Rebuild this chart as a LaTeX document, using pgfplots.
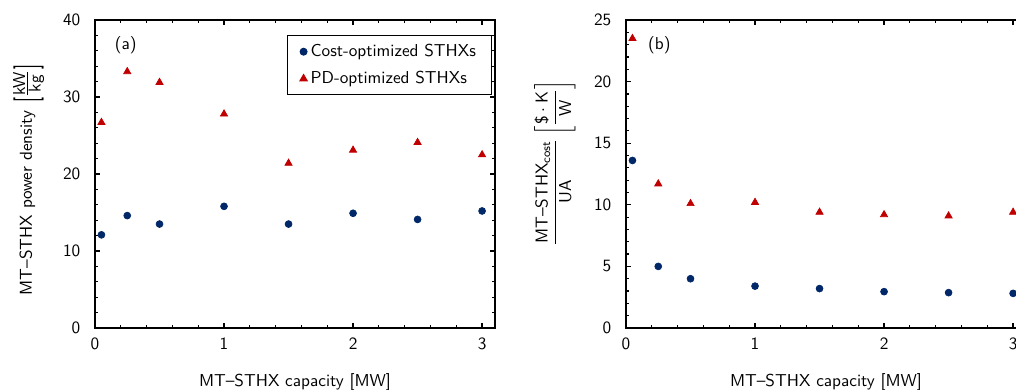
\documentclass[border=0pt]{standalone}
\usepackage{amsmath}
\usepackage{graphicx}
\usepackage{pgfplots}
\pgfplotsset{compat=1.18}
\usetikzlibrary{calc}
\renewcommand{\familydefault}{\sfdefault}
\definecolor{navy}{RGB}{0,40,104}
\definecolor{dred}{RGB}{192,0,0}
\newcommand{\bigbr}[1]{\raisebox{-2.4pt}{\scalebox{1}[1.75]{#1}}}
\pgfplotsset{
 mystyle/.style={
  scale only axis, width=232pt, height=178.64pt,
  xmin=0, xmax=3.1, xtick={0,1,2,3}, minor x tick num=4,
  tick align=inside, major tick length=3pt, minor tick length=1.8pt,
  every tick/.style={black, line width=0.7pt},
  axis line style={line width=0.9pt},
  /pgf/number format/assume math mode=true,
  yticklabel style={xshift=-5pt},
  xticklabel style={yshift=-2pt},
  xlabel={MT--STHX capacity [MW]},
  xlabel style={at={($(axis description cs:0.5,0)+(0,-31.3pt)$)}, anchor=center},
  clip=false,
 },
 cmark/.style={only marks, mark=*, mark size=2.0pt, color=navy},
 tmark/.style={only marks, mark=triangle*, mark size=2.4pt, color=dred},
}
\begin{document}
\begin{tikzpicture}
\begin{axis}[mystyle, name=L, at={(0,0)}, anchor=south west,
  ymin=0, ymax=40, ytick={0,10,20,30,40}, minor y tick num=4,
  ylabel={MT--STHX power density\hspace{5pt}\bigbr{[}$\frac{\textstyle\text{kW}}{\textstyle\text{kg}}$\bigbr{]}},
  ylabel style={at={($(axis description cs:0,0.5)+(-38.5pt,-3.5pt)$)}, anchor=center},
  legend style={at={(rel axis cs:0.9925,0.951)}, anchor=north east, draw=black, line width=0.6pt, inner xsep=7pt, inner ysep=3pt, row sep=3pt},
  legend cell align=left]
\addplot[cmark] coordinates {(0.05,12.1)(0.25,14.6)(0.5,13.5)(1,15.8)(1.5,13.5)(2,14.9)(2.5,14.1)(3,15.2)};
\addlegendentry{Cost-optimized STHXs\hspace{5pt}}
\addplot[tmark] coordinates {(0.05,26.7)(0.25,33.3)(0.5,31.9)(1,27.8)(1.5,21.4)(2,23.1)(2.5,24.1)(3,22.5)};
\addlegendentry{PD-optimized STHXs}
\node at (axis cs:0.238,36.75) {(a)};
\end{axis}
\begin{axis}[mystyle, name=R, at={(307.98pt,0)}, anchor=south west,
  ymin=0, ymax=25, ytick={0,5,10,15,20,25}, minor y tick num=4,
  ylabel={$\dfrac{\text{MT--STHX}_{\text{cost}}}{\text{UA}}\left[\dfrac{\text{\$}\cdot\text{K}}{\text{W}}\right]$},
  ylabel style={at={($(axis description cs:0,0.5)+(-41.2pt,6.4pt)$)}, anchor=center}]
\addplot[cmark] coordinates {(0.05,13.6)(0.25,5.0)(0.5,4.0)(1,3.4)(1.5,3.2)(2,2.95)(2.5,2.87)(3,2.81)};
\addplot[tmark] coordinates {(0.05,23.5)(0.25,11.7)(0.5,10.1)(1,10.2)(1.5,9.4)(2,9.2)(2.5,9.1)(3,9.4)};
\node at (axis cs:0.258,22.97) {(b)};
\end{axis}
\pgfresetboundingbox
\path[use as bounding box] (-55.1pt,-35.38pt) rectangle (534.18pt,190.24pt);
\end{tikzpicture}
\end{document}
